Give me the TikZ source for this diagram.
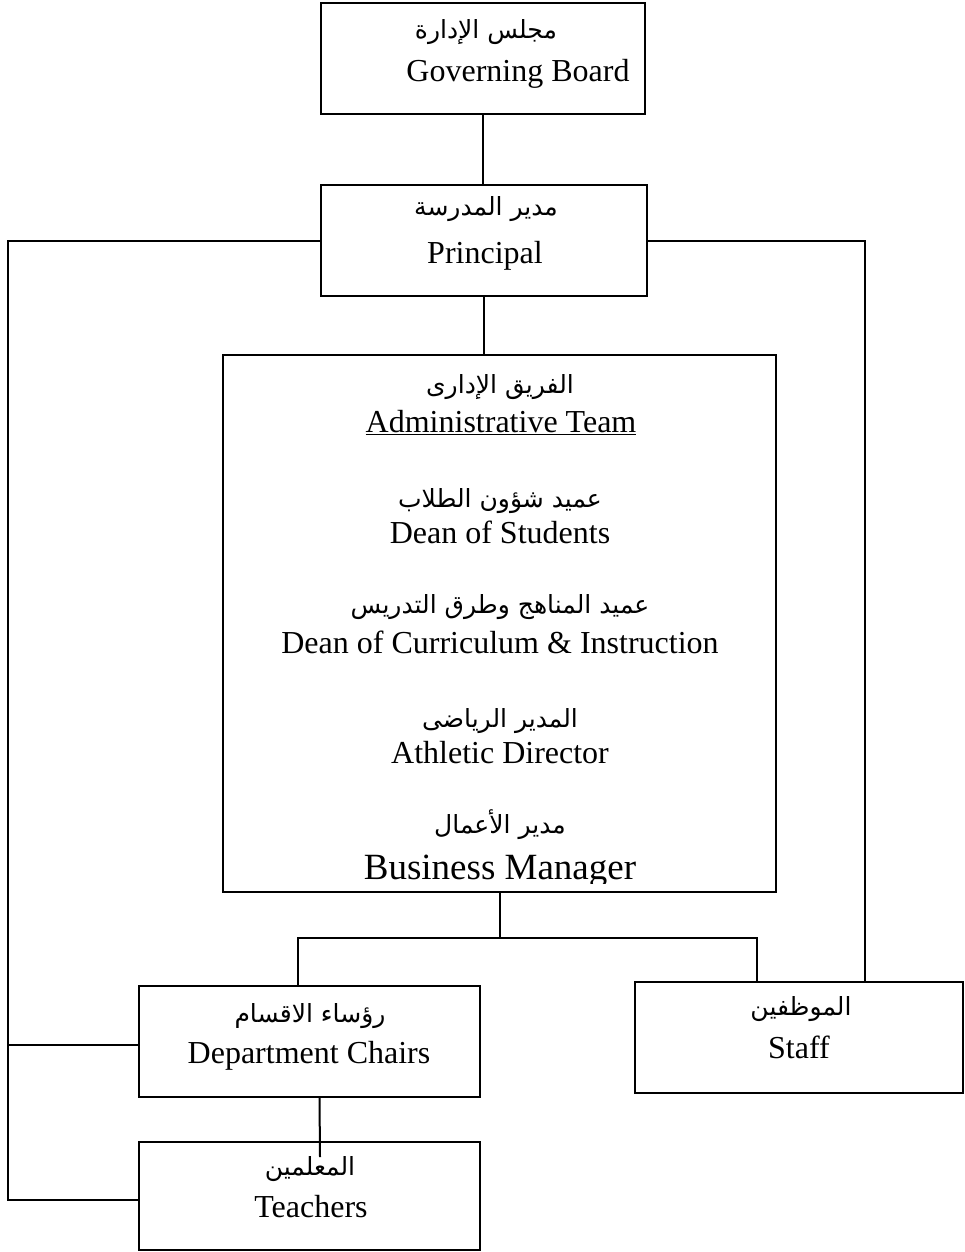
\documentclass[tikz,border=0pt]{standalone}
\usepackage{fontspec}
\setmainfont{Liberation Serif}
\newfontfamily\arabicfont[Script=Arabic]{DejaVu Sans}
\TeXXeTstate=1
\tikzset{
  box/.style={draw, line width=2pt, anchor=north west, inner sep=0pt, outer sep=0pt},
  en/.style={anchor=base, inner sep=0pt, font=\fontsize{32}{38}\selectfont},
  ar/.style={anchor=base, inner sep=0pt, font=\arabicfont\fontsize{25}{30}\selectfont},
}

\begin{document}
\begin{tikzpicture}[x=1pt,y=-1pt,line width=2pt]
\useasboundingbox (0,0) rectangle (965,1252);
% boxes
\node [box, minimum width=324pt, minimum height=111pt] (board) at (321,3) {};
\node [box, minimum width=326pt, minimum height=111pt] (principal) at (321,185) {};
\node [box, minimum width=553pt, minimum height=537pt] (admin) at (223,355) {};
\node [box, minimum width=341pt, minimum height=111pt] (chairs) at (139,986) {};
\node [box, minimum width=341pt, minimum height=108pt] (teachers) at (139,1142) {};
\node [box, minimum width=328pt, minimum height=111pt] (staff) at (635,982) {};
% texts
\node [ar] (boardar) at (486,39) {\beginR مجلس الإدارة\endR};
\node [en] (boarden) at (518,82) {Governing Board};
\node [ar] (principalar) at (486,215) {\beginR مدير المدرسة\endR};
\node [en] (principalen) at (485,263) {Principal};
\node [ar] (teamar) at (500,393) {\beginR الفريق الإدارى\endR};
\node [en] (teamen) at (501,432) {\underline{Administrative Team}};
\node [ar] (studentsar) at (500,507) {\beginR عميد شؤون الطلاب\endR};
\node [en] (studentsen) at (500,543) {Dean of Students};
\node [ar] (curriculumar) at (500,613) {\beginR عميد المناهج وطرق التدريس\endR};
\node [en] (curriculumen) at (500,653) {Dean of Curriculum \& Instruction};
\node [ar] (athleticar) at (500,727) {\beginR المدير الرياضى\endR};
\node [en] (athleticen) at (500,763) {Athletic Director};
\node [ar] (businessar) at (500,833) {\beginR مدير الأعمال\endR};
\begin{scope}
\clip (223,355) rectangle (776,883);
\node [en, font=\fontsize{37}{44}\selectfont] (businessen) at (500,879) {Business Manager};
\end{scope}
\node [ar] (chairsar) at (310,1022) {\beginR رؤساء الاقسام\endR};
\node [en] (chairsen) at (309,1063) {Department Chairs};
\node [ar] (teachersar) at (310,1175) {\beginR المعلمين\endR};
\node [en] (teachersen) at (311,1217) {Teachers};
\node [ar] (staffar) at (801,1015) {\beginR الموظفين\endR};
\node [en] (staffen) at (799,1058) {Staff};
% connectors
\draw (board.south) -- (board.south |- principal.north);
\draw (principal.south) -- (principal.south |- admin.north);
\draw (principal.west) -| ([xshift=-131pt,yshift=-4pt]teachers.west) -- ([yshift=-4pt]teachers.west);
\draw ([yshift=-3pt]chairs.west) -- ([xshift=-131pt,yshift=-3pt]chairs.west);
\draw (principal.east) -| ([xshift=66pt]staff.north);
\coordinate (bus) at (admin.south |- 0,938);
\draw (admin.south) -- (bus);
\draw ([xshift=-12pt]chairs.north) |- (bus) -| ([xshift=-42pt]staff.north);
\coordinate (tch) at (320,1157);
\draw ([xshift=10pt]chairs.south) -- (tch);
\end{tikzpicture}
\end{document}
